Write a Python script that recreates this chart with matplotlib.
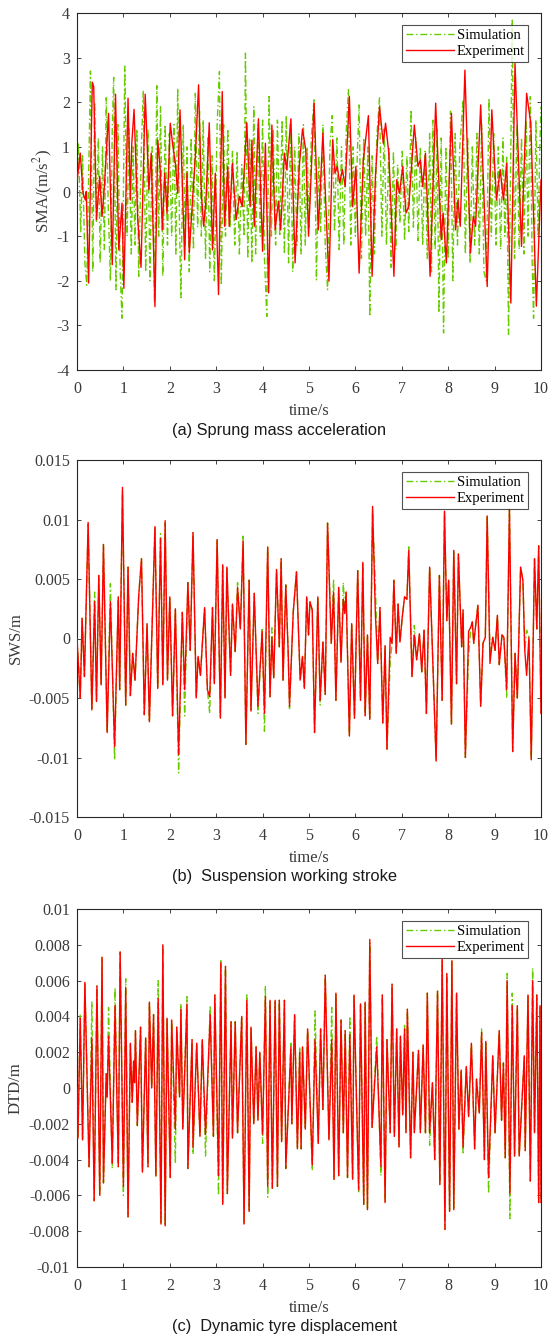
import matplotlib
matplotlib.use("Agg")
import matplotlib.pyplot as plt

# ---------------- data (time/s, value) ----------------
sma_exp = [(0.00,0.22),(0.07,0.86),(0.13,-0.04),(0.18,-0.19),(0.20,0.0),(0.25,-2.05),(0.33,2.45),(0.36,2.35),
 (0.42,-0.63),(0.49,0.34),(0.54,-0.56),(0.59,0.11),(0.68,1.75),(0.76,-1.64),(0.83,2.18),(0.90,-1.31),(0.97,-0.26),
 (1.01,-2.17),(1.10,2.09),(1.15,-0.19),(1.18,1.07),(1.23,1.84),(1.31,-0.63),(1.38,-1.70),(1.47,2.18),(1.55,0.04),
 (1.60,0.86),(1.68,-2.58),(1.74,1.15),(1.79,0.56),(1.84,-0.86),(1.89,0.41),(1.94,-0.49),(2.01,1.53),(2.06,1.07),
 (2.12,0.63),(2.17,-0.04),(2.22,1.83),(2.32,-1.53),(2.37,0.41),(2.42,-1.38),(2.49,-0.19),(2.55,0.78),(2.62,2.39),
 (2.68,-0.04),(2.73,-0.78),(2.78,-0.19),(2.85,1.54),(2.92,-1.31),(2.98,0.41),(3.05,-2.31),(3.13,2.24),(3.18,-0.78),
 (3.25,0.56),(3.28,-0.78),(3.35,0.63),(3.43,-0.63),(3.50,-0.11),(3.56,-0.34),(3.66,1.54),(3.73,-0.34),(3.77,1.15),
 (3.82,-0.78),(3.91,1.63),(4.00,-1.34),(4.06,1.08),(4.13,-2.27),(4.20,1.49),(4.27,-0.86),(4.34,-0.22),(4.39,-0.86),
 (4.47,0.86),(4.52,0.49),(4.61,1.63),(4.70,-1.60),(4.79,0.56),(4.86,1.40),(4.93,0.93),(4.99,-1.0),(5.11,1.98),
 (5.20,-0.86),(5.30,1.31),(5.43,-2.01),(5.51,1.16),(5.56,0.41),(5.61,0.56),(5.66,0.19),(5.72,0.49),(5.78,0.11),
 (5.87,2.13),(5.94,-0.34),(6.01,0.56),(6.08,-1.83),(6.17,0.71),(6.28,1.70),(6.36,-1.90),(6.43,0.30),(6.52,1.90),
 (6.60,1.08),(6.65,1.53),(6.72,0.86),(6.83,-1.90),(6.89,0.26),(6.95,-0.04),(7.02,0.56),(7.09,-0.48),(7.15,-0.34),
 (7.27,1.49),(7.35,0.56),(7.40,0.71),(7.45,0.11),(7.51,0.86),(7.61,-1.90),(7.73,1.98),(7.85,-1.08),(7.89,-0.48),
 (7.96,-1.60),(8.07,1.75),(8.16,-0.86),(8.21,-0.19),(8.26,-0.78),(8.36,2.72),(8.48,-1.38),(8.54,-0.56),(8.59,-0.78),
 (8.70,1.94),(8.84,-2.13),(8.94,1.83),(9.04,-0.19),(9.12,0.49),(9.19,-0.19),(9.26,0.63),(9.35,-2.50),(9.44,2.87),
 (9.58,-1.23),(9.69,2.20),(9.78,1.53),(9.90,-2.57),(10.0,0.26)]

sma_sim = [(0.00,0.3),(0.03,1.1),(0.08,-0.9),(0.12,0.8),(0.17,-1.6),(0.21,-2.1),(0.26,0.9),(0.29,2.7),(0.34,-1.8),
 (0.38,2.0),(0.42,-0.7),(0.46,1.2),(0.50,-1.6),(0.55,1.0),(0.59,-1.3),(0.63,2.1),(0.67,-0.2),(0.72,-2.0),(0.76,1.4),
 (0.79,2.56),(0.84,-2.2),(0.88,1.5),(0.93,-1.8),(0.97,-2.84),(1.03,2.81),(1.08,-1.0),(1.12,1.4),(1.17,-1.4),(1.21,1.0),
 (1.25,-1.2),(1.29,1.4),(1.33,-1.9),(1.39,1.1),(1.43,2.26),(1.48,-1.8),(1.53,1.4),(1.57,-2.0),(1.62,1.0),(1.67,-2.5),
 (1.72,2.37),(1.76,-1.0),(1.80,1.9),(1.85,-1.9),(1.90,1.5),(1.95,-1.2),(1.99,1.3),(2.04,-1.0),(2.09,1.5),(2.13,-1.4),
 (2.17,2.31),(2.21,-0.8),(2.24,-2.38),(2.29,1.5),(2.33,-1.2),(2.37,1.0),(2.42,-1.8),(2.46,1.2),(2.51,-1.3),(2.55,2.2),
 (2.60,-0.8),(2.64,1.8),(2.68,-1.0),(2.72,1.6),(2.77,-1.5),(2.82,1.2),(2.86,-1.8),(2.91,0.8),(2.96,-2.0),(3.02,1.5),
 (3.07,2.69),(3.11,-2.1),(3.16,1.5),(3.20,-1.0),(3.25,1.4),(3.30,-0.8),(3.35,0.9),(3.40,-1.2),(3.45,0.9),(3.50,-1.4),
 (3.55,0.6),(3.60,-1.0),(3.63,3.1),(3.68,-1.5),(3.72,1.2),(3.77,-1.6),(3.81,1.9),(3.85,-1.4),(3.90,1.5),(3.95,-1.0),
 (4.00,1.6),(4.04,-1.5),(4.09,-2.8),(4.14,2.13),(4.19,-1.0),(4.23,1.4),(4.28,-1.2),(4.32,1.6),(4.37,-1.0),(4.42,1.6),
 (4.47,-1.4),(4.51,1.7),(4.56,-1.6),(4.60,1.5),(4.65,-1.8),(4.69,1.0),(4.74,-1.2),(4.78,1.3),(4.83,-1.4),(4.88,1.5),
 (4.92,-1.2),(4.96,1.0),(5.00,-0.8),(5.05,1.2),(5.11,2.09),(5.16,-1.98),(5.21,0.8),(5.25,-0.9),(5.30,1.5),(5.35,-1.2),
 (5.40,-2.2),(5.45,1.0),(5.50,1.7),(5.55,-0.9),(5.60,1.2),(5.65,-1.3),(5.70,1.0),(5.75,-1.2),(5.80,1.3),(5.85,2.28),
 (5.90,-1.2),(5.95,1.0),(6.00,-1.0),(6.04,0.8),(6.08,1.94),(6.13,-1.5),(6.18,1.2),(6.22,-1.0),(6.27,1.0),(6.31,-2.8),
 (6.36,0.8),(6.41,-1.4),(6.46,1.2),(6.52,2.1),(6.57,-1.0),(6.62,1.4),(6.67,-1.2),(6.72,1.0),(6.77,-1.7),(6.82,0.9),
 (6.87,-1.3),(6.91,0.6),(6.96,-0.7),(7.01,0.9),(7.06,-1.1),(7.11,0.8),(7.15,-0.9),(7.20,1.83),(7.25,-0.8),(7.30,1.2),
 (7.35,-1.1),(7.40,1.0),(7.45,-1.2),(7.50,0.9),(7.55,-1.5),(7.60,1.3),(7.64,-1.8),(7.67,1.6),(7.72,-1.3),(7.76,1.4),
 (7.80,-2.72),(7.85,1.2),(7.90,-3.17),(7.95,1.0),(8.00,-1.5),(8.05,1.8),(8.10,-2.0),(8.15,1.3),(8.20,-1.2),(8.25,1.0),
 (8.32,2.05),(8.37,-1.4),(8.42,1.2),(8.47,-1.6),(8.52,1.0),(8.57,-1.2),(8.62,1.3),(8.67,-1.4),(8.72,1.5),(8.77,-1.8),
 (8.82,-2.0),(8.88,2.09),(8.93,-1.0),(8.98,1.3),(9.03,-1.2),(9.08,1.0),(9.13,-1.3),(9.18,1.2),(9.22,-1.0),(9.26,0.8),
 (9.30,-3.2),(9.35,1.0),(9.38,3.84),(9.43,-1.5),(9.48,1.5),(9.53,-1.3),(9.58,1.2),(9.63,-1.4),(9.68,1.6),(9.72,-1.0),
 (9.77,2.13),(9.81,-1.6),(9.84,-2.84),(9.89,1.6),(9.94,-1.0),(9.97,0.8),(10.0,1.9)]

# suspension working stroke, values in 1e-3 m
sws_exp = [(0.00,0.0),(0.07,-5.0),(0.11,1.7),(0.16,-3.2),(0.24,9.75),(0.32,-6.0),(0.38,3.1),(0.42,-5.3),(0.47,5.3),
 (0.52,-3.9),(0.57,7.9),(0.65,-7.9),(0.72,3.1),(0.81,-9.1),(0.89,3.5),(0.92,-4.3),(0.98,12.7),(1.05,-5.6),(1.10,6.0),
 (1.15,-4.8),(1.20,-1.25),(1.25,-3.5),(1.33,3.6),(1.39,6.7),(1.45,-6.4),(1.51,1.25),(1.56,-7.0),(1.68,9.4),(1.74,-4.2),
 (1.80,8.4),(1.85,-3.9),(1.90,9.9),(1.95,-3.5),(2.00,3.5),(2.06,-6.5),(2.12,2.5),(2.19,-9.75),(2.27,2.2),(2.32,-4.3),
 (2.39,4.7),(2.44,-1.0),(2.50,8.9),(2.57,-5.0),(2.61,-1.5),(2.66,-3.1),(2.75,2.6),(2.81,-4.3),(2.86,-4.9),(2.92,2.6),
 (2.96,-3.8),(3.02,8.3),(3.09,-6.7),(3.14,6.2),(3.19,-5.0),(3.23,6.0),(3.31,-3.1),(3.35,2.9),(3.41,-1.1),(3.46,4.3),
 (3.52,0.8),(3.58,8.2),(3.64,-8.9),(3.71,4.9),(3.75,-6.1),(3.82,3.8),(3.90,-5.7),(3.99,0.6),(4.04,-6.3),(4.11,7.7),
 (4.16,-4.9),(4.20,0.1),(4.24,-3.3),(4.30,5.8),(4.36,-0.7),(4.40,6.7),(4.44,-3.5),(4.50,4.5),(4.55,-1.0),(4.58,-5.7),
 (4.66,2.2),(4.73,5.6),(4.81,-3.5),(4.86,-1.5),(4.90,-4.2),(4.95,3.5),(4.99,0.3),(5.02,3.1),(5.07,2.4),(5.12,-7.9),
 (5.19,3.5),(5.24,-5.2),(5.30,-0.3),(5.35,-4.7),(5.40,9.7),(5.48,-0.4),(5.53,3.9),(5.58,-5.2),(5.64,4.3),(5.69,-2.0),
 (5.74,3.3),(5.77,2.1),(5.80,3.9),(5.87,-8.2),(5.92,1.25),(5.98,-6.7),(6.05,5.7),(6.11,-5.2),(6.16,6.4),(6.21,-6.5),
 (6.26,0.3),(6.31,-6.8),(6.37,11.1),(6.43,2.1),(6.48,-2.1),(6.53,2.6),(6.59,-7.1),(6.64,-0.6),(6.68,-9.3),(6.75,0.1),
 (6.79,-0.4),(6.83,4.9),(6.88,-1.25),(6.92,2.9),(6.96,-0.3),(7.01,1.8),(7.06,3.5),(7.11,3.3),(7.15,7.4),(7.22,-3.2),
 (7.27,0.3),(7.32,-1.8),(7.38,0.4),(7.43,-2.8),(7.48,0.7),(7.53,-6.3),(7.60,6.0),(7.66,-1.0),(7.74,-10.3),(7.81,5.3),
 (7.87,-5.2),(7.92,10.7),(7.97,1.5),(8.01,4.9),(8.07,-7.2),(8.12,7.4),(8.18,-3.8),(8.22,7.1),(8.29,-0.7),(8.32,2.4),
 (8.37,-10.0),(8.44,0.6),(8.49,1.0),(8.52,1.4),(8.55,-0.4),(8.64,2.8),(8.70,-5.7),(8.75,-0.4),(8.80,0.1),(8.84,10.3),
 (8.90,-2.1),(8.96,0.1),(9.01,-1.0),(9.06,1.95),(9.10,-2.2),(9.16,0.3),(9.20,0.1),(9.26,-4.3),(9.32,10.9),(9.39,-9.5),
 (9.44,-1.25),(9.49,-5.0),(9.56,6.0),(9.61,4.9),(9.65,-1.0),(9.69,-3.1),(9.74,0.1),(9.79,-10.2),(9.86,6.7),(9.91,0.8),
 (9.95,7.8),(10.0,-6.3)]

sws_sim = [(0.00,0.0),(0.07,-5.0),(0.11,1.7),(0.16,-3.2),(0.24,9.6),(0.32,-6.0),(0.38,3.9),(0.42,-5.3),(0.47,5.3),
 (0.52,-3.9),(0.57,7.9),(0.65,-7.9),(0.72,4.6),(0.81,-10.2),(0.89,3.5),(0.92,-4.3),(0.98,12.4),(1.05,-5.6),(1.10,6.0),
 (1.15,-4.8),(1.20,-1.25),(1.25,-3.5),(1.33,3.6),(1.39,6.7),(1.45,-6.4),(1.51,1.25),(1.56,-7.0),(1.68,9.4),(1.74,-4.2),
 (1.80,8.8),(1.85,-3.9),(1.90,9.7),(1.95,-3.5),(2.00,3.5),(2.06,-6.5),(2.12,2.5),(2.19,-11.3),(2.27,2.2),(2.32,-6.5),
 (2.39,4.7),(2.44,-1.0),(2.50,8.9),(2.57,-5.0),(2.61,-1.5),(2.66,-3.1),(2.75,2.6),(2.81,-4.3),(2.86,-6.3),(2.92,2.6),
 (2.96,-3.8),(3.02,8.3),(3.09,-6.7),(3.14,6.2),(3.19,-5.0),(3.23,6.0),(3.31,-3.1),(3.35,2.9),(3.41,-1.1),(3.46,4.7),
 (3.52,0.8),(3.58,8.6),(3.64,-8.9),(3.71,4.9),(3.75,-6.1),(3.82,3.8),(3.90,-6.3),(3.99,0.9),(4.04,-7.8),(4.11,7.7),
 (4.16,-4.9),(4.20,0.9),(4.24,-3.3),(4.30,5.8),(4.36,-0.7),(4.40,6.7),(4.44,-3.5),(4.50,4.5),(4.55,-1.0),(4.58,-5.9),
 (4.66,2.2),(4.73,5.6),(4.81,-3.5),(4.86,-1.5),(4.90,-4.2),(4.95,3.5),(4.99,0.3),(5.02,3.1),(5.07,2.4),(5.12,-7.9),
 (5.19,3.5),(5.24,-5.6),(5.30,-0.3),(5.35,-4.7),(5.40,9.7),(5.48,-0.4),(5.53,5.0),(5.58,-5.2),(5.64,4.3),(5.69,-2.0),
 (5.74,4.7),(5.77,2.1),(5.80,3.9),(5.87,-8.2),(5.92,1.25),(5.98,-6.7),(6.05,5.7),(6.11,-5.2),(6.16,6.4),(6.21,-6.5),
 (6.26,0.3),(6.31,-6.8),(6.37,10.8),(6.43,4.5),(6.48,-2.1),(6.53,2.6),(6.59,-7.1),(6.64,-0.6),(6.68,-9.3),(6.75,-2.0),
 (6.79,-0.4),(6.83,4.9),(6.88,-1.25),(6.92,2.9),(6.96,-0.3),(7.01,1.8),(7.06,3.5),(7.11,3.3),(7.15,7.7),(7.22,-3.2),
 (7.27,1.1),(7.32,-1.8),(7.38,0.4),(7.43,-2.8),(7.48,0.7),(7.53,-6.3),(7.60,6.0),(7.66,-1.0),(7.74,-10.3),(7.81,5.3),
 (7.87,-5.2),(7.92,10.7),(7.97,1.5),(8.01,4.9),(8.07,-7.2),(8.12,7.4),(8.18,-3.8),(8.22,7.1),(8.29,-0.7),(8.32,2.4),
 (8.37,-10.0),(8.44,-1.4),(8.49,1.0),(8.52,1.4),(8.55,-0.4),(8.64,2.8),(8.70,-5.7),(8.75,-0.4),(8.80,0.1),(8.84,10.3),
 (8.90,-1.0),(8.96,0.1),(9.01,-1.0),(9.06,1.95),(9.10,-2.2),(9.16,0.3),(9.20,0.1),(9.26,-5.0),(9.32,10.9),(9.39,-9.5),
 (9.44,-1.25),(9.49,-5.0),(9.56,6.0),(9.61,4.9),(9.65,-1.0),(9.69,0.7),(9.74,0.1),(9.79,-10.2),(9.86,6.7),(9.91,0.8),
 (9.95,7.8),(10.0,-6.3)]

# dynamic tyre displacement, values in 1e-3 m
dtd_exp = [(0.00,0.0),(0.02,-2.8),(0.07,3.9),(0.12,-2.9),(0.17,5.9),(0.26,-4.4),(0.32,2.8),(0.37,-6.3),(0.43,5.7),
 (0.49,-6.0),(0.54,7.3),(0.57,-5.3),(0.63,0.8),(0.65,-0.5),(0.68,2.9),(0.76,-4.2),(0.82,4.6),(0.89,-4.4),(0.93,7.6),
 (1.00,-5.5),(1.05,5.6),(1.10,-7.2),(1.15,2.5),(1.19,-0.8),(1.22,1.5),(1.24,0.3),(1.26,3.2),(1.30,-2.1),(1.37,3.4),
 (1.41,-4.7),(1.48,2.8),(1.53,-4.4),(1.56,4.8),(1.61,0.0),(1.65,4.1),(1.70,-4.9),(1.75,5.0),(1.81,-7.6),(1.85,8.0),
 (1.90,-7.7),(1.94,3.9),(2.01,-5.0),(2.04,3.8),(2.12,-2.3),(2.15,3.4),(2.21,-0.5),(2.24,4.4),(2.28,-2.3),(2.37,4.7),
 (2.39,-4.5),(2.48,2.7),(2.50,-3.3),(2.58,2.5),(2.65,-2.7),(2.70,2.7),(2.77,-2.6),(2.87,4.1),(2.94,-2.7),(2.97,5.2),
 (3.05,-4.9),(3.10,7.0),(3.14,-6.5),(3.20,6.8),(3.24,-5.9),(3.32,3.7),(3.35,-2.8),(3.41,3.7),(3.46,-2.5),(3.55,4.0),
 (3.60,-7.6),(3.66,4.9),(3.71,-6.9),(3.75,3.4),(3.81,-2.0),(3.86,2.3),(3.90,-1.8),(3.94,2.0),(4.00,-2.6),(4.06,5.1),
 (4.11,-5.5),(4.16,4.9),(4.21,-5.6),(4.27,4.9),(4.32,-5.5),(4.36,4.9),(4.41,-3.0),(4.47,4.9),(4.50,-4.5),(4.61,2.3),
 (4.63,-2.0),(4.69,4.1),(4.75,-3.4),(4.80,2.0),(4.83,-3.4),(4.86,2.3),(4.92,-2.3),(4.97,3.3),(5.07,-4.3),(5.13,2.7),
 (5.20,-3.1),(5.25,3.3),(5.30,-1.2),(5.35,6.3),(5.43,-2.9),(5.49,2.7),(5.54,-5.1),(5.58,5.3),(5.64,-4.9),(5.69,3.8),
 (5.74,-2.5),(5.78,3.2),(5.83,-5.0),(5.88,3.0),(5.94,-5.1),(5.97,5.2),(6.07,-5.7),(6.11,4.7),(6.18,-6.5),(6.21,4.8),
 (6.26,-6.8),(6.31,8.3),(6.36,-2.2),(6.46,2.3),(6.55,-4.4),(6.58,5.2),(6.64,-6.4),(6.68,2.7),(6.75,-2.5),(6.79,5.8),
 (6.84,-2.7),(6.89,3.3),(6.94,-3.3),(6.97,2.9),(7.02,-1.5),(7.06,3.3),(7.09,-2.5),(7.12,4.4),(7.19,-3.9),(7.24,2.0),
 (7.27,-2.5),(7.36,2.1),(7.40,-2.5),(7.46,2.4),(7.51,-2.5),(7.55,5.3),(7.60,-2.5),(7.66,0.3),(7.71,-4.0),(7.77,5.4),
 (7.82,-5.4),(7.87,7.2),(7.93,-7.9),(7.97,6.4),(8.03,-6.9),(8.08,7.1),(8.12,-6.8),(8.18,5.3),(8.23,-2.3),(8.28,1.0),
 (8.32,-3.3),(8.39,1.2),(8.44,-1.6),(8.50,2.5),(8.57,-3.4),(8.61,0.5),(8.67,-1.4),(8.72,3.1),(8.78,-4.0),(8.81,2.6),
 (8.87,-5.0),(8.96,1.8),(9.01,-2.5),(9.10,3.2),(9.15,-1.8),(9.19,1.4),(9.23,-3.9),(9.27,6.0),(9.33,-5.9),(9.38,4.6),
 (9.43,-3.8),(9.49,4.6),(9.53,-3.8),(9.64,1.8),(9.66,-3.5),(9.72,5.2),(9.77,-5.2),(9.82,6.0),(9.86,-2.5),(9.91,5.2),
 (9.95,-6.4),(9.98,4.6),(10.0,-6.4)]

dtd_sim = [(0.00,0.0),(0.02,-2.8),(0.07,4.1),(0.12,-2.9),(0.17,5.9),(0.26,-4.4),(0.32,4.8),(0.37,-6.3),(0.43,5.7),
 (0.49,-6.0),(0.54,7.3),(0.57,-5.3),(0.63,0.8),(0.65,-0.5),(0.68,4.5),(0.76,-4.5),(0.82,5.6),(0.89,-4.4),(0.93,7.6),
 (1.00,-6.0),(1.05,6.1),(1.10,-7.2),(1.15,2.5),(1.19,-0.8),(1.22,1.5),(1.24,0.3),(1.26,3.2),(1.30,-2.1),(1.37,3.4),
 (1.41,-4.7),(1.48,2.8),(1.53,-4.4),(1.56,4.8),(1.61,0.0),(1.65,4.1),(1.70,-5.0),(1.75,6.0),(1.81,-7.6),(1.85,8.0),
 (1.90,-7.7),(1.94,3.9),(2.01,-5.0),(2.04,3.8),(2.12,-4.2),(2.15,3.4),(2.21,-0.5),(2.24,4.7),(2.28,-2.3),(2.37,5.1),
 (2.39,-4.5),(2.48,2.7),(2.50,-3.7),(2.58,2.5),(2.65,-2.7),(2.70,2.7),(2.77,-3.8),(2.87,4.6),(2.94,-2.7),(2.97,5.2),
 (3.05,-6.0),(3.10,7.2),(3.14,-6.5),(3.20,6.8),(3.24,-5.9),(3.32,3.7),(3.35,-2.8),(3.41,3.7),(3.46,-2.5),(3.55,4.0),
 (3.60,-7.6),(3.66,5.2),(3.71,-6.9),(3.75,3.4),(3.81,-2.0),(3.86,2.3),(3.90,-1.8),(3.94,2.0),(4.00,-3.1),(4.06,5.7),
 (4.11,-6.1),(4.16,4.9),(4.21,-5.6),(4.27,4.9),(4.32,-5.5),(4.36,4.9),(4.41,-3.0),(4.47,4.9),(4.50,-4.5),(4.61,2.5),
 (4.63,-2.0),(4.69,4.1),(4.75,-3.4),(4.80,2.3),(4.83,-3.4),(4.86,2.3),(4.92,-2.3),(4.97,3.3),(5.07,-4.6),(5.13,4.3),
 (5.20,-3.1),(5.25,3.3),(5.30,-1.2),(5.35,6.3),(5.43,-2.9),(5.49,4.5),(5.54,-5.1),(5.58,5.3),(5.64,-4.9),(5.69,3.8),
 (5.74,-2.5),(5.78,3.2),(5.83,-5.0),(5.88,4.0),(5.94,-5.1),(5.97,5.2),(6.07,-5.8),(6.11,4.7),(6.18,-6.5),(6.21,4.8),
 (6.26,-6.8),(6.31,8.1),(6.36,-2.2),(6.46,2.9),(6.55,-4.9),(6.58,5.2),(6.64,-6.4),(6.68,2.7),(6.75,-2.5),(6.79,5.8),
 (6.84,-2.7),(6.89,3.3),(6.94,-3.3),(6.97,2.9),(7.02,-1.5),(7.06,3.5),(7.09,-2.5),(7.12,4.4),(7.19,-3.9),(7.24,2.0),
 (7.27,-2.5),(7.36,2.1),(7.40,-2.5),(7.46,2.4),(7.51,-2.5),(7.55,5.3),(7.60,-3.2),(7.66,0.3),(7.71,-4.0),(7.77,5.5),
 (7.82,-5.4),(7.87,7.2),(7.93,-7.9),(7.97,6.4),(8.03,-6.9),(8.08,7.1),(8.12,-6.8),(8.18,5.3),(8.23,-2.3),(8.28,1.0),
 (8.32,-3.7),(8.39,1.2),(8.44,-1.6),(8.50,2.5),(8.57,-3.4),(8.61,0.5),(8.67,-1.4),(8.72,3.3),(8.78,-4.0),(8.81,2.6),
 (8.87,-5.9),(8.96,1.8),(9.01,-2.5),(9.10,3.2),(9.15,-1.8),(9.19,1.4),(9.23,-3.9),(9.27,6.4),(9.33,-7.3),(9.38,5.3),
 (9.43,-3.8),(9.49,4.6),(9.53,-3.8),(9.64,1.8),(9.66,-3.5),(9.72,5.2),(9.77,-5.2),(9.82,6.7),(9.86,-2.5),(9.91,5.2),
 (9.95,-6.4),(9.98,4.6),(10.0,-6.4)]

x_ticks = [0, 1, 2, 3, 4, 5, 6, 7, 8, 9, 10]
sma_yticks = [-4, -3, -2, -1, 0, 1, 2, 3, 4]
sma_ylabels = ['-4', '-3', '-2', '-1', '0', '1', '2', '3', '4']
sws_yticks = [-0.015, -0.01, -0.005, 0, 0.005, 0.01, 0.015]
sws_ylabels = ['-0.015', '-0.01', '-0.005', '0', '0.005', '0.01', '0.015']
dtd_yticks = [-0.01, -0.008, -0.006, -0.004, -0.002, 0, 0.002, 0.004, 0.006, 0.008, 0.01]
dtd_ylabels = ['-0.01', '-0.008', '-0.006', '-0.004', '-0.002', '0', '0.002', '0.004', '0.006', '0.008', '0.01']

ylabels = ['SMA/(m/s$^2$)', 'SWS/m', 'DTD/m']
captions = ['(a) Sprung mass acceleration', '(b)  Suspension working stroke', '(c)  Dynamic tyre displacement']
series_names = ['Simulation', 'Experiment']

# ---------------- drawing ----------------
plt.rcParams['font.family'] = ['Liberation Serif', 'DejaVu Serif']
plt.rcParams['mathtext.fontset'] = 'stix'

W, H = 548, 1338
fig = plt.figure(figsize=(W / 100, H / 100), dpi=100)

# (sim, exp, scale, yticks, ylabels, ylim, top px, bottom px, caption y px, ylabel x px right edge)
panels = [
    (sma_sim, sma_exp, 1.0, sma_yticks, sma_ylabels, (-4, 4), 13, 370, 430, 55),
    (sws_sim, sws_exp, 1e-3, sws_yticks, sws_ylabels, (-0.015, 0.015), 460, 817, 877, 24),
    (dtd_sim, dtd_exp, 1e-3, dtd_yticks, dtd_ylabels, (-0.01, 0.01), 909, 1267, 1327, 24),
]

green = '#66cc00'
red = '#ff0000'
axc = '#262626'
txc = '#3a3a3a'

for i, (sim, exp, scale, yt, yl, ylim, top, bot, capy, ylx) in enumerate(panels):
    left, right = 77, 541
    ax = fig.add_axes([left / W, 1 - bot / H, (right - left) / W, (bot - top) / H])
    st = [p[0] for p in sim]
    sv = [p[1] * scale for p in sim]
    et = [p[0] for p in exp]
    ev = [p[1] * scale for p in exp]
    ax.plot(st, sv, color=green, lw=1.0, linestyle=(0, (5, 2, 1, 2)), label=series_names[0], zorder=2)
    ax.plot(et, ev, color=red, lw=1.0, linestyle='-', label=series_names[1], zorder=3)
    ax.set_xlim(0, 10)
    ax.set_ylim(*ylim)
    ax.set_xticks(x_ticks)
    ax.set_xticklabels([str(x) for x in x_ticks])
    ax.set_yticks(yt)
    ax.set_yticklabels(yl)
    ax.tick_params(direction='in', top=True, right=True, length=3, width=0.6,
                   labelsize=11.5, color=axc, labelcolor=txc)
    ax.tick_params(axis='x', pad=8)
    ax.tick_params(axis='y', pad=5)
    for s in ax.spines.values():
        s.set_color(axc)
        s.set_linewidth(0.8)
    ax.set_xlabel('time/s', fontsize=12, color=txc, labelpad=4)
    ax.set_ylabel(ylabels[i], fontsize=12, color=txc)
    ax.yaxis.set_label_coords((ylx - left) / (right - left), 0.5)
    leg = ax.legend(loc='upper right', bbox_to_anchor=(0.973, 0.966), fontsize=10.5,
                    handlelength=3.3, handletextpad=0.2, borderpad=0.25, labelspacing=0.2,
                    frameon=True, fancybox=False, borderaxespad=0)
    leg.get_frame().set_edgecolor(axc)
    leg.get_frame().set_linewidth(0.8)
    fig.text(172 / W, 1 - capy / H, captions[i], ha='left', va='center',
             fontsize=11.8, family=['Liberation Sans', 'DejaVu Sans'], color='#1a1a1a')

fig.savefig('out.png', dpi=100)
